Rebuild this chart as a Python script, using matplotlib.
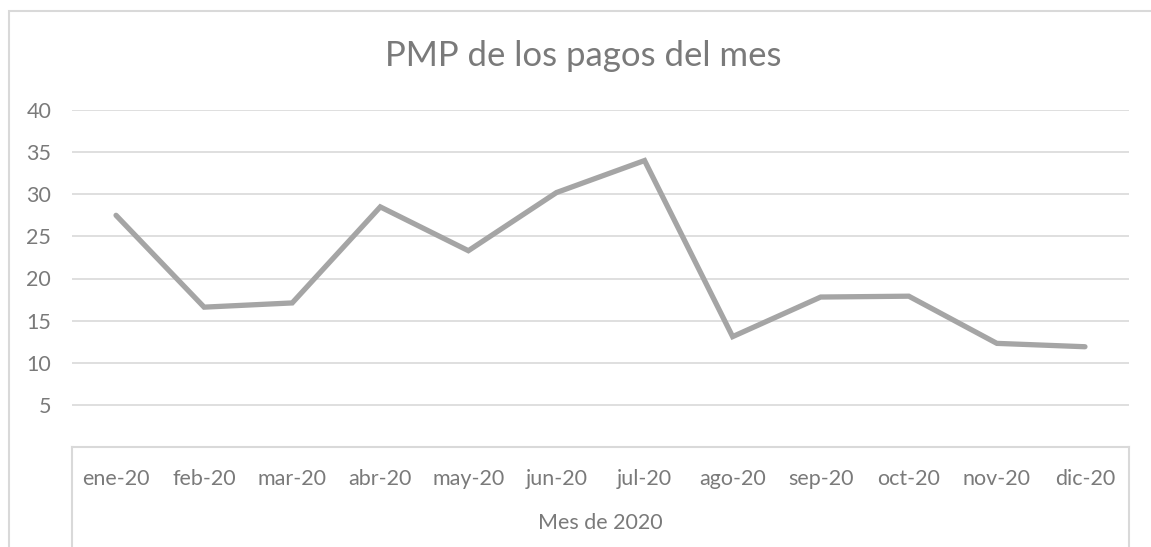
import numpy as np
import matplotlib
matplotlib.use("Agg")
import matplotlib.pyplot as plt
from matplotlib.lines import Line2D
from matplotlib.patches import Rectangle

# data
months = ["ene-20", "feb-20", "mar-20", "abr-20", "may-20", "jun-20",
          "jul-20", "ago-20", "sep-20", "oct-20", "nov-20", "dic-20"]
pmp = [27.5, 16.6, 17.1, 28.5, 23.3, 30.2, 34.0, 13.1, 17.8, 17.9, 12.3, 11.9]
y_ticks = [5, 10, 15, 20, 25, 30, 35, 40]

title = "PMP de los pagos del mes"
x_title = "Mes de 2020"

W, H = 1151, 547
text_grey = "#7a7a7a"
line_grey = "#a5a5a5"
grid_grey = "#d9d9d9"

plt.rcParams['font.family'] = ['Lato', 'DejaVu Sans']

fig = plt.figure(figsize=(W / 100, H / 100), dpi=100)
fig.patch.set_facecolor("white")

# outer chart frame (cut by the image on the right and bottom)
fig.patches.append(Rectangle((8.5 / W, -0.1), 1.2, 1 - 11 / H + 0.1,
                             transform=fig.transFigure, fill=False,
                             edgecolor=grid_grey, linewidth=1.5))

left, right, top, bottom = 72, 1129, 110, 447
ax = fig.add_axes([left / W, (H - bottom) / H, (right - left) / W, (bottom - top) / H])

x = np.arange(len(months))
ax.plot(x, pmp, color=line_grey, linewidth=3.8,
        solid_capstyle="round", solid_joinstyle="miter")

ax.set_xlim(-0.5, len(months) - 0.5)
ax.set_ylim(0, 40)
ax.set_yticks(y_ticks)
ax.set_yticklabels([str(v) for v in y_ticks])
ax.yaxis.grid(True, color=grid_grey, linewidth=1.2)
ax.set_axisbelow(True)

for side in ["top", "right", "left"]:
    ax.spines[side].set_visible(False)
ax.spines["bottom"].set_color(grid_grey)
ax.spines["bottom"].set_linewidth(1.5)

ax.set_xticks(x)
ax.set_xticklabels(months)
ax.tick_params(axis="x", length=0, pad=16, labelsize=15.5, labelcolor=text_grey)
ax.tick_params(axis="y", length=0, pad=15, labelsize=15.5, labelcolor=text_grey)

# category box side lines below the axis
for px in (left, right):
    fig.add_artist(Line2D([px / W, px / W], [0, (H - bottom) / H],
                          transform=fig.transFigure, color=grid_grey, linewidth=1.5))

ax.text(0.5, -(523 - bottom) / (bottom - top), x_title, transform=ax.transAxes,
        ha="center", va="center", fontsize=15.5, color=text_grey)

fig.text(583 / W, 1 - 56 / H, title, ha="center", va="center",
         fontsize=25, color=text_grey)

fig.savefig("out.png", dpi=100, facecolor="white")
